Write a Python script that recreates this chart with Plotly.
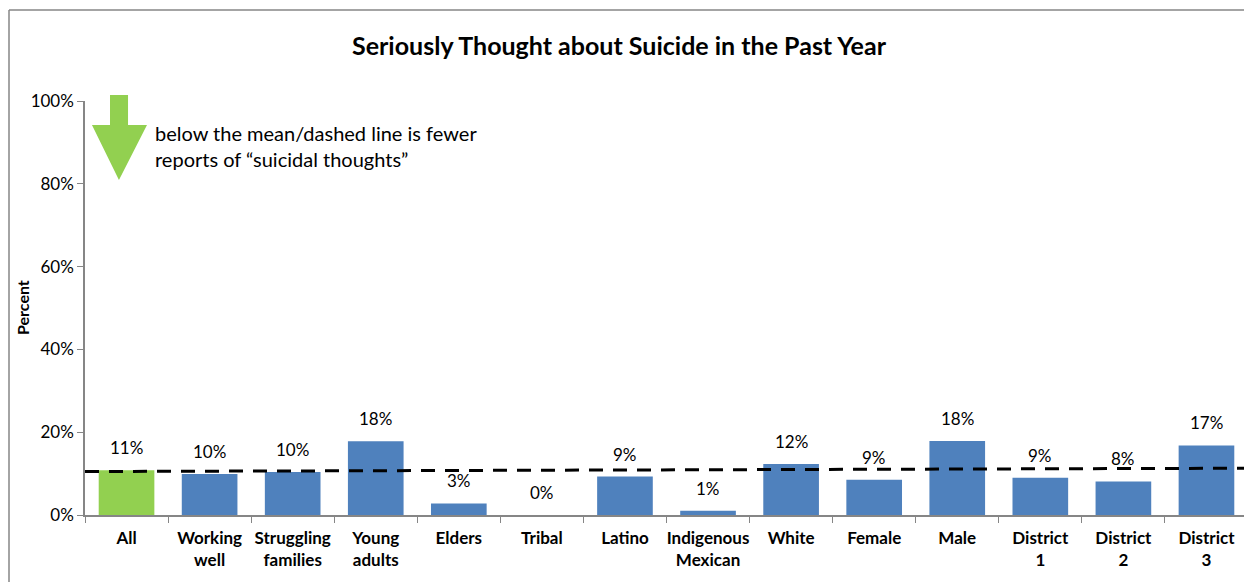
import plotly.graph_objects as go

categories = ["All", "Working<br>well", "Struggling<br>families", "Young<br>adults", "Elders",
              "Tribal", "Latino", "Indigenous<br>Mexican", "White", "Female", "Male",
              "District<br>1", "District<br>2", "District<br>3"]
values = [10.8, 9.9, 10.4, 17.8, 2.8, 0.0, 9.3, 1.0, 12.3, 8.5, 17.9, 9.0, 8.1, 16.8]
labels = ["11%", "10%", "10%", "18%", "3%", "0%", "9%", "1%", "12%", "9%", "18%", "9%", "8%", "17%"]
bar_colors = ["#92D050"] + ["#4F81BD"] * 13
mean_line = [10.5, 11.3]
y_ticks = [0, 20, 40, 60, 80, 100]
y_ticktext = ["0%", "20%", "40%", "60%", "80%", "100%"]

FONT = "Lato"
W, H = 1252, 582
L, R, T, B = 77, 12, 93, 75
PW, PH = W - L - R, H - T - B


def px(x):
    return (x - L) / PW


def py(y):
    return (H - B - y) / PH


fig = go.Figure()
fig.add_trace(go.Bar(x=categories, y=values, marker=dict(color=bar_colors, line=dict(width=0)),
                     width=0.67, showlegend=False, hoverinfo="skip"))
fig.add_trace(go.Scatter(x=[0, 1], y=mean_line, mode="lines", xaxis="x2",
                         line=dict(color="black", width=3, dash="14px,10px"),
                         showlegend=False, hoverinfo="skip"))

for c, v, t in zip(categories, values, labels):
    fig.add_annotation(x=c, y=v, text=t, showarrow=False, yanchor="bottom", yshift=10,
                       font=dict(family=FONT, size=17, color="black"))

# green arrow (decoration)
pts = [(102, 87), (120, 87), (120, 117), (139, 117), (111, 172), (84, 117), (102, 117)]
path = "M " + " L ".join(f"{px(x):.4f} {py(y):.4f}" for x, y in pts) + " Z"
fig.add_shape(type="path", xref="paper", yref="paper", layer="above", path=path,
              fillcolor="#92D050", line=dict(width=0))
fig.add_annotation(xref="paper", yref="paper", x=px(145), y=py(111), xanchor="left", yanchor="top",
                   align="left", showarrow=False,
                   text="below the mean/dashed line is fewer<br>reports of “suicidal thoughts”",
                   font=dict(family=FONT, size=20, color="black"))

# chart frame: only top and left edges are visible in the reference
fig.add_shape(type="line", xref="paper", yref="paper", x0=px(1), x1=px(W), y0=py(2), y1=py(2),
              line=dict(color="#868686", width=1.5), layer="below")
fig.add_shape(type="line", xref="paper", yref="paper", x0=px(1), x1=px(1), y0=py(2), y1=py(H),
              line=dict(color="#868686", width=1.5), layer="below")

fig.update_layout(
    width=W, height=H,
    margin=dict(l=L, r=R, t=T, b=B, autoexpand=False),
    paper_bgcolor="white", plot_bgcolor="white",
    font=dict(family=FONT, color="black"),
    title=dict(text="<b>Seriously Thought about Suicide in the Past Year</b>",
               x=611 / W, xref="container", xanchor="center",
               y=1 - 38 / H, yref="container", yanchor="middle",
               font=dict(family=FONT, size=25, color="black")),
    xaxis=dict(type="category", tickson="boundaries", ticks="outside", ticklen=6,
               tickcolor="#868686", showline=True, linecolor="#868686", linewidth=1.5,
               showgrid=False, tickfont=dict(family=FONT, size=17, color="black"),
               tickprefix="<b>", ticksuffix="</b>", range=[-0.5, 13.5], ticklabelstandoff=7,
               tickangle=0),
    xaxis2=dict(overlaying="x", range=[0, 1], visible=False),
    yaxis=dict(range=[0, 100], tickvals=y_ticks, ticktext=y_ticktext, ticks="outside",
               ticklen=6, tickcolor="#868686", showline=True, linecolor="#868686",
               linewidth=1.5, showgrid=False, zeroline=False,
               tickfont=dict(family=FONT, size=17, color="black")),
)
fig.add_annotation(xref="paper", yref="paper", x=px(14), y=0.5, text="<b>Percent</b>",
                   textangle=-90, showarrow=False, xanchor="center", yanchor="middle",
                   font=dict(family=FONT, size=16, color="black"))

fig.write_html("out.html",
               post_script="document.documentElement.style.overflow='hidden';"
                           "document.body.style.overflow='hidden';")
